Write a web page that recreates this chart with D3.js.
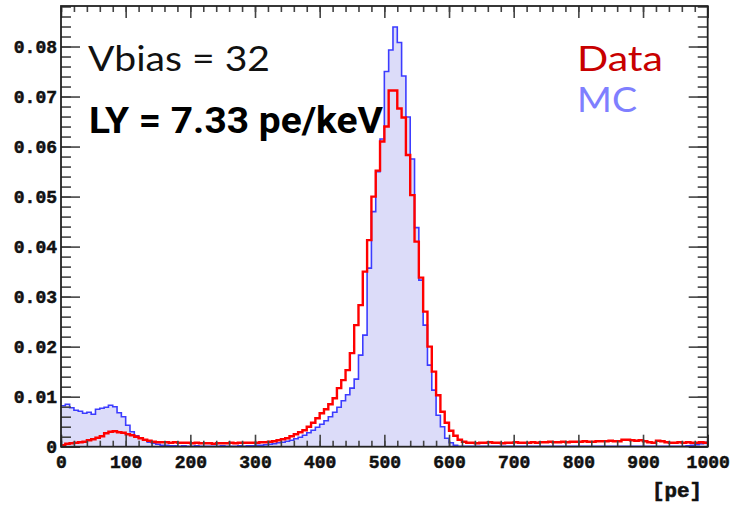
<!DOCTYPE html>
<html>
<head>
<meta charset="utf-8">
<script src="https://cdn.jsdelivr.net/npm/d3@7"></script>
<style>
  html, body { margin: 0; padding: 0; background: #fff; }
  svg { display: block; }
</style>
</head>
<body>
<svg id="chart" width="733" height="505"></svg>
<script>
// Photo-electron spectrum: 150 bins of 6.67 pe over 0–1000 pe (normalised)
const binLow = 0, binHigh = 1000, nBins = 150;

const dataCounts = [
  0.0003, 0.0006, 0.0007, 0.0008, 0.0009, 0.0010, 0.0013, 0.0015, 0.0018, 0.0021,
  0.0027, 0.0030, 0.0031, 0.0029, 0.0028, 0.0025, 0.0023, 0.0020, 0.0017, 0.0014,
  0.0012, 0.0010, 0.0009, 0.0009, 0.0009, 0.0008, 0.0009, 0.0008, 0.0008, 0.0008,
  0.0007, 0.0008, 0.0007, 0.0007, 0.0007, 0.0006, 0.0007, 0.0007, 0.0007, 0.0008,
  0.0007, 0.0008, 0.0008, 0.0008, 0.0008, 0.0008, 0.0009, 0.0009, 0.0010, 0.0011,
  0.0013, 0.0015, 0.0017, 0.0021, 0.0025, 0.0029, 0.0033, 0.0040, 0.0048, 0.0057,
  0.0067, 0.0075, 0.0085, 0.0097, 0.0117, 0.0133, 0.0153, 0.0187, 0.0243, 0.0283,
  0.0350, 0.0413, 0.0500, 0.0552, 0.0610, 0.0640, 0.0712, 0.0712, 0.0676, 0.0658,
  0.0583, 0.0503, 0.0410, 0.0338, 0.0270, 0.0200, 0.0150, 0.0103, 0.0070, 0.0048,
  0.0032, 0.0022, 0.0014, 0.0010, 0.0008, 0.0008, 0.0007, 0.0008, 0.0008, 0.0009,
  0.0008, 0.0008, 0.0007, 0.0008, 0.0008, 0.0009, 0.0008, 0.0008, 0.0008, 0.0009,
  0.0008, 0.0009, 0.0009, 0.0010, 0.0009, 0.0009, 0.0010, 0.0009, 0.0010, 0.0010,
  0.0010, 0.0011, 0.0010, 0.0010, 0.0011, 0.0011, 0.0011, 0.0012, 0.0011, 0.0011,
  0.0014, 0.0014, 0.0013, 0.0012, 0.0013, 0.0011, 0.0009, 0.0008, 0.0012, 0.0011,
  0.0009, 0.0008, 0.0008, 0.0009, 0.0008, 0.0009, 0.0008, 0.0008, 0.0009, 0.0008
];

const mcCounts = [
  0.0082, 0.0085, 0.0078, 0.0073, 0.0071, 0.0067, 0.0069, 0.0065, 0.0075, 0.0077,
  0.0079, 0.0083, 0.0080, 0.0068, 0.0060, 0.0043, 0.0030, 0.0022, 0.0017, 0.0013,
  0.0009, 0.0007, 0.0005, 0.0003, 0.0003, 0.0002, 0.0002, 0.0001, 0.0002, 0.0001,
  0.0001, 0.0002, 0.0001, 0.0001, 0.0001, 0.0001, 0.0001, 0.0002, 0.0001, 0.0001,
  0.0001, 0.0002, 0.0001, 0.0002, 0.0002, 0.0003, 0.0003, 0.0004, 0.0005, 0.0006,
  0.0008, 0.0009, 0.0011, 0.0013, 0.0016, 0.0019, 0.0023, 0.0028, 0.0033, 0.0039,
  0.0045, 0.0052, 0.0060, 0.0069, 0.0079, 0.0092, 0.0104, 0.0117, 0.0135, 0.0183,
  0.0223, 0.0357, 0.0470, 0.0550, 0.0615, 0.0750, 0.0793, 0.0839, 0.0808, 0.0741,
  0.0659, 0.0575, 0.0438, 0.0333, 0.0243, 0.0163, 0.0113, 0.0063, 0.0040, 0.0017,
  0.0008, 0.0003, 0.0001, 0.0001, 0.0001, 0.0001, 0.0001, 0.0001, 0.0001, 0.0001,
  0.0001, 0.0001, 0.0001, 0.0001, 0.0001, 0.0001, 0.0001, 0.0001, 0.0001, 0.0001,
  0.0001, 0.0001, 0.0001, 0.0001, 0.0001, 0.0001, 0.0001, 0.0001, 0.0001, 0.0001,
  0.0001, 0.0001, 0.0001, 0.0001, 0.0001, 0.0001, 0.0001, 0.0001, 0.0001, 0.0001,
  0.0001, 0.0001, 0.0001, 0.0001, 0.0001, 0.0001, 0.0001, 0.0001, 0.0001, 0.0001,
  0.0001, 0.0001, 0.0001, 0.0001, 0.0001, 0.0002, 0.0003, 0.0004, 0.0006, 0.0009
];

const xTickValues = [0, 100, 200, 300, 400, 500, 600, 700, 800, 900, 1000];
const yTickValues = [0, 0.01, 0.02, 0.03, 0.04, 0.05, 0.06, 0.07, 0.08];
const yTickLabels = ["0", "0.01", "0.02", "0.03", "0.04", "0.05", "0.06", "0.07", "0.08"];
const xAxisTitle = "[pe]";
const yMax = 0.0881;

const annotations = {
  bias: "Vbias = 32",
  ly: "LY = 7.33 pe/keV",
  data: "Data",
  mc: "MC"
};

// ---- layout ----
const frame = { left: 61, right: 707.7, top: 6, bottom: 446.7 };
const svg = d3.select("#chart");

const x = d3.scaleLinear().domain([binLow, binHigh]).range([frame.left, frame.right]);
const y = d3.scaleLinear().domain([0, yMax]).range([frame.bottom, frame.top]);

const binWidth = (binHigh - binLow) / nBins;
function toSteps(counts) {
  const pts = counts.map((v, i) => [binLow + i * binWidth, v]);
  pts.push([binHigh, counts[counts.length - 1]]);
  return pts;
}

svg.append("defs").append("clipPath").attr("id", "plotClip")
  .append("rect")
  .attr("x", frame.left).attr("y", frame.top)
  .attr("width", frame.right - frame.left).attr("height", frame.bottom - frame.top);

const plot = svg.append("g").attr("clip-path", "url(#plotClip)");

const mcPts = toSteps(mcCounts);
const dataPts = toSteps(dataCounts);

const area = d3.area()
  .curve(d3.curveStepAfter)
  .x(d => x(d[0])).y0(y(0)).y1(d => y(d[1]));
const line = d3.line()
  .curve(d3.curveStepAfter)
  .x(d => x(d[0])).y(d => y(d[1]));

plot.append("path").attr("d", area(mcPts))
  .attr("fill", "#dcdcf9").attr("stroke", "none");
plot.append("path").attr("d", line(mcPts))
  .attr("fill", "none").attr("stroke", "#3c3cff").attr("stroke-width", 1.6);
plot.append("path").attr("d", line(dataPts))
  .attr("fill", "none").attr("stroke", "#ff0000").attr("stroke-width", 2.4);

// ---- axes (ticks point inwards, mirrored on top/right) ----
const tickColor = "#444";
const labelFont = "'Liberation Mono', 'DejaVu Sans Mono', monospace";

function styleAxis(g) {
  g.select(".domain").remove();
  g.selectAll(".tick line").attr("stroke", tickColor).attr("stroke-width", 1.6);
  g.selectAll(".tick text")
    .attr("fill", "#111")
    .attr("stroke", "#111").attr("stroke-width", 0.5)
    .style("font-family", labelFont)
    .style("font-weight", "bold")
    .style("font-size", "18px");
}

const xMinor = d3.range(0, 1001, 20);
const yMinor = d3.range(0, 0.0881, 0.002);

// bottom
svg.append("g").attr("transform", `translate(0,${frame.bottom})`)
  .call(d3.axisBottom(x).tickValues(xMinor).tickSize(-6).tickFormat(""))
  .call(styleAxis);
svg.append("g").attr("transform", `translate(0,${frame.bottom})`)
  .call(d3.axisBottom(x).tickValues(xTickValues).tickSizeInner(-12).tickSizeOuter(0)
    .tickPadding(9).tickFormat(d3.format("d")))
  .call(styleAxis);
// top
svg.append("g").attr("transform", `translate(0,${frame.top})`)
  .call(d3.axisTop(x).tickValues(xMinor).tickSize(-6).tickFormat(""))
  .call(styleAxis);
svg.append("g").attr("transform", `translate(0,${frame.top})`)
  .call(d3.axisTop(x).tickValues(xTickValues).tickSize(-12).tickFormat(""))
  .call(styleAxis);
// left
svg.append("g").attr("transform", `translate(${frame.left},0)`)
  .call(d3.axisLeft(y).tickValues(yMinor).tickSize(-10).tickFormat(""))
  .call(styleAxis);
svg.append("g").attr("transform", `translate(${frame.left},0)`)
  .call(d3.axisLeft(y).tickValues(yTickValues).tickSizeInner(-19).tickSizeOuter(0)
    .tickPadding(4).tickFormat((d, i) => yTickLabels[i]))
  .call(styleAxis);
// right
svg.append("g").attr("transform", `translate(${frame.right},0)`)
  .call(d3.axisRight(y).tickValues(yMinor).tickSize(-10).tickFormat(""))
  .call(styleAxis);
svg.append("g").attr("transform", `translate(${frame.right},0)`)
  .call(d3.axisRight(y).tickValues(yTickValues).tickSize(-19).tickFormat(""))
  .call(styleAxis);

// frame
svg.append("rect")
  .attr("x", frame.left).attr("y", frame.top)
  .attr("width", frame.right - frame.left).attr("height", frame.bottom - frame.top)
  .attr("fill", "none").attr("stroke", "#222").attr("stroke-width", 1.8);

// x-axis title
svg.append("text")
  .attr("x", 702).attr("y", 497)
  .attr("text-anchor", "end")
  .attr("textLength", 50).attr("lengthAdjust", "spacingAndGlyphs")
  .style("font-family", labelFont).style("font-weight", "bold").style("font-size", "21px")
  .attr("fill", "#111").attr("stroke", "#111").attr("stroke-width", 0.6)
  .text(xAxisTitle);

// ---- annotations ----
const geoFont = "'Lato', 'Open Sans', 'DejaVu Sans', sans-serif";
svg.append("text").attr("x", 88).attr("y", 70.5)
  .attr("textLength", 182).attr("lengthAdjust", "spacingAndGlyphs")
  .style("font-family", geoFont).style("font-size", "35px").attr("fill", "#111")
  .text(annotations.bias);
svg.append("text").attr("x", 89).attr("y", 132.5)
  .attr("textLength", 294).attr("lengthAdjust", "spacingAndGlyphs")
  .style("font-family", "'Liberation Sans Narrow', 'Roboto', 'Liberation Sans', sans-serif")
  .style("font-weight", "bold").style("font-size", "36px").attr("fill", "#000")
  .text(annotations.ly);
svg.append("text").attr("x", 577).attr("y", 71)
  .attr("textLength", 86).attr("lengthAdjust", "spacingAndGlyphs")
  .style("font-family", geoFont).style("font-size", "35px").attr("fill", "#c80000")
  .text(annotations.data);
svg.append("text").attr("x", 577).attr("y", 112)
  .attr("textLength", 60).attr("lengthAdjust", "spacingAndGlyphs")
  .style("font-family", geoFont).style("font-size", "35px").attr("fill", "#7f7fff")
  .text(annotations.mc);
</script>
</body>
</html>
